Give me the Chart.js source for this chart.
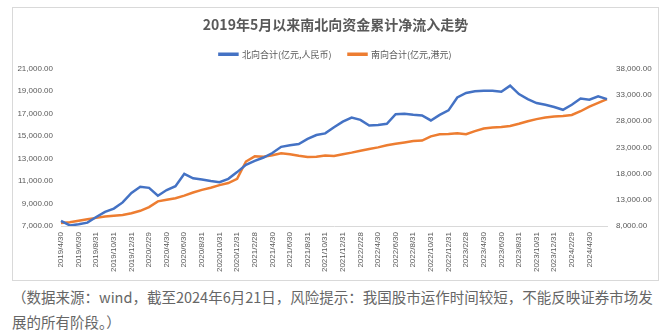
<!DOCTYPE html>
<html>
<head>
<meta charset="utf-8">
<script src="https://cdn.jsdelivr.net/npm/chart.js@4"></script>
<style>
  body { margin: 0; background: #fff; width: 668px; height: 332px; overflow: hidden; }
  #box { position: absolute; left: 12px; top: 7px; width: 647px; height: 274px; border: 1px solid #d9d9d9; box-sizing: border-box; }
  #note { position: absolute; left: 12px; top: 284px; font: 14.5px "Noto Sans CJK SC", sans-serif; line-height: 25px; color: #666; white-space: nowrap; }
</style>
</head>
<body>
<div id="box"><canvas id="canvas1"></canvas></div>
<div id="note">（数据来源：wind，截至2024年6月21日，风险提示：我国股市运作时间较短，不能反映证券市场发<br>展的所有阶段。）</div>
<script>
// 日期 (月末)
var dates = [
  '2019/4/30', '2019/5/31', '2019/6/30', '2019/7/31', '2019/8/31', '2019/9/30', '2019/10/31', '2019/11/30', '2019/12/31',
  '2020/1/31', '2020/2/29', '2020/3/31', '2020/4/30', '2020/5/31', '2020/6/30', '2020/7/31', '2020/8/31', '2020/9/30', '2020/10/31', '2020/11/30', '2020/12/31',
  '2021/1/31', '2021/2/28', '2021/3/31', '2021/4/30', '2021/5/31', '2021/6/30', '2021/7/31', '2021/8/31', '2021/9/30', '2021/10/31', '2021/11/30', '2021/12/31',
  '2022/1/31', '2022/2/28', '2022/3/31', '2022/4/30', '2022/5/31', '2022/6/30', '2022/7/31', '2022/8/31', '2022/9/30', '2022/10/31', '2022/11/30', '2022/12/31',
  '2023/1/31', '2023/2/28', '2023/3/31', '2023/4/30', '2023/5/31', '2023/6/30', '2023/7/31', '2023/8/31', '2023/9/30', '2023/10/31', '2023/11/30', '2023/12/31',
  '2024/1/31', '2024/2/29', '2024/3/31', '2024/4/30', '2024/5/31', '2024/6/21'
];

// 北向合计(亿元,人民币) - 左轴
var north = [
  7450, 7050, 7150, 7300, 7800, 8260, 8550, 9100, 9950,
  10500, 10400, 9700, 10200, 10550, 11650, 11250, 11150, 11000, 10900, 11200, 11800,
  12450, 12800, 13100, 13500, 14050, 14200, 14300, 14750, 15100, 15250, 15800, 16300,
  16650, 16450, 15950, 16000, 16100, 16950, 17000, 16900, 16850, 16400, 16900, 17300,
  18450, 18850, 19000, 19050, 19050, 18950, 19500, 18750, 18300, 17950, 17800, 17600,
  17350, 17800, 18350, 18250, 18550, 18300
];

// 南向合计(亿元,港元) - 右轴
var south = [
  8580, 8700, 9000, 9300, 9550, 9800, 9950, 10100, 10450,
  10900, 11600, 12700, 13000, 13300, 13800, 14400, 14900, 15300, 15800, 16200, 17000,
  20300, 21300, 21200, 21500, 21900, 21700, 21400, 21150, 21200, 21450, 21350, 21700,
  22000, 22350, 22700, 23000, 23400, 23700, 23950, 24200, 24300, 25100, 25500, 25550,
  25700, 25500, 26100, 26600, 26800, 26900, 27100, 27500, 28000, 28400, 28700, 28900,
  29000, 29200, 29900, 30800, 31500, 32200
];

var grey = '#595959';
var numFmt = function (v) {
  return v.toLocaleString('en-US', { minimumFractionDigits: 2, maximumFractionDigits: 2 });
};

var ctx = document.getElementById('canvas1').getContext('2d');
var chart = new Chart(ctx, {
  type: 'line',
  data: {
    labels: dates,
    datasets: [{
      label: '北向合计(亿元,人民币)',
      data: north,
      yAxisID: 'y',
      borderColor: '#4472C4',
      backgroundColor: '#4472C4',
      borderWidth: 2.5,
      pointRadius: 0
    }, {
      label: '南向合计(亿元,港元)',
      data: south,
      yAxisID: 'y2',
      borderColor: '#ED7D31',
      backgroundColor: '#ED7D31',
      borderWidth: 2.5,
      pointRadius: 0
    }]
  },
  options: {
    responsive: true,
    maintainAspectRatio: false,
    animation: false,
    plugins: {
      title: {
        display: true,
        text: '2019年5月以来南北向资金累计净流入走势',
        color: grey,
        font: { family: 'Noto Sans CJK SC', size: 14, weight: 'bold' },
        padding: { top: 8, bottom: 0 }
      },
      legend: {
        labels: {
          color: grey,
          boxWidth: 18,
          boxHeight: 1,
          padding: 17,
          font: { family: 'Noto Sans CJK SC', size: 9 }
        }
      },
      tooltip: { enabled: false }
    },
    scales: {
      x: {
        grid: { display: false, drawTicks: false },
        border: { display: true, color: '#d9d9d9' },
        ticks: {
          autoSkip: false,
          minRotation: 90,
          maxRotation: 90,
          color: grey,
          padding: 6,
          font: { family: 'Liberation Sans', size: 8 },
          callback: function (v, i) {
            return (i % 2 === 0 && i <= 60) ? dates[i] : null;
          }
        },
        afterFit: function (s) { s.height = 54; }
      },
      y: {
        position: 'left',
        min: 7000,
        max: 21000,
        grid: { display: false, drawTicks: false },
        border: { display: false },
        ticks: { stepSize: 2000, color: grey, padding: 8, font: { family: 'Liberation Sans', size: 8 }, callback: numFmt },
        afterFit: function (s) { s.width = 48; }
      },
      y2: {
        position: 'right',
        min: 8000,
        max: 38000,
        grid: { display: false, drawTicks: false },
        border: { display: false },
        ticks: { stepSize: 5000, color: grey, padding: 9, font: { family: 'Liberation Sans', size: 8 }, callback: numFmt },
        afterFit: function (s) { s.width = 51; }
      }
    }
  }
});
</script>
</body>
</html>
